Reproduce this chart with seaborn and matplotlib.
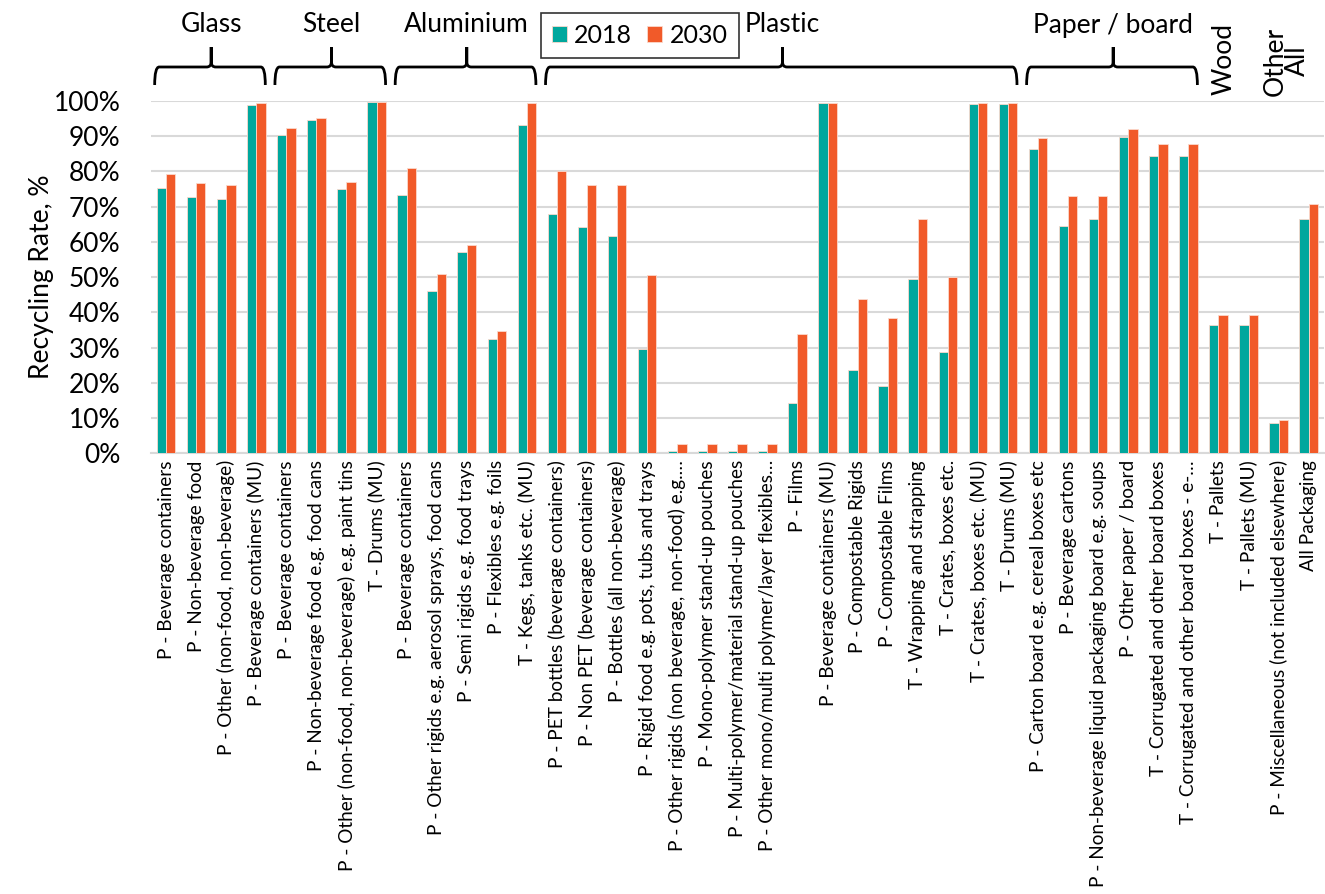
import matplotlib
matplotlib.use("Agg")
import matplotlib.pyplot as plt
import matplotlib.transforms as mtransforms
from matplotlib.path import Path
from matplotlib.patches import PathPatch
import pandas as pd
import seaborn as sns

labels = [
    "P - Beverage containers", "P - Non-beverage food",
    "P - Other (non-food, non-beverage)", "P - Beverage containers (MU)",
    "P - Beverage containers", "P - Non-beverage food e.g. food cans",
    "P - Other (non-food, non-beverage) e.g. paint tins", "T - Drums (MU)",
    "P - Beverage containers", "P - Other rigids e.g. aerosol sprays, food cans",
    "P - Semi rigids e.g. food trays", "P - Flexibles e.g. foils",
    "T - Kegs, tanks etc. (MU)",
    "P - PET bottles (beverage containers)", "P - Non PET (beverage containers)",
    "P - Bottles (all non-beverage)", "P - Rigid food e.g. pots, tubs and trays",
    "P - Other rigids (non beverage, non-food) e.g.…",
    "P - Mono-polymer stand-up pouches",
    "P - Multi-polymer/material stand-up pouches",
    "P - Other mono/multi polymer/layer flexibles…",
    "P - Films", "P - Beverage containers (MU)", "P - Compostable Rigids",
    "P - Compostable Films", "T - Wrapping and strapping",
    "T - Crates, boxes etc.", "T - Crates, boxes etc. (MU)", "T - Drums (MU)",
    "P - Carton board e.g. cereal boxes etc", "P - Beverage cartons",
    "P - Non-beverage liquid packaging board e.g. soups",
    "P - Other paper / board", "T - Corrugated and other board boxes",
    "T - Corrugated and other board boxes - e-…",
    "T - Pallets", "T - Pallets (MU)",
    "P - Miscellaneous (not included elsewhere)", "All Packaging",
]

rate_2018 = [75.4, 72.8, 72.1, 99.0, 90.3, 94.5, 75.1, 99.8,
             73.3, 46.1, 57.0, 32.4, 93.2,
             68.0, 64.2, 61.8, 29.5, 0.6, 0.6, 0.6, 0.6, 14.3, 99.5,
             23.7, 19.1, 49.4, 28.8, 99.2, 99.2,
             86.3, 64.4, 66.5, 89.9, 84.3, 84.3,
             36.5, 36.5, 8.7, 66.5]
rate_2030 = [79.2, 76.6, 76.3, 99.3, 92.4, 95.2, 76.9, 99.8,
             81.0, 50.9, 59.1, 34.7, 99.3,
             80.2, 76.3, 76.1, 50.5, 2.7, 2.7, 2.7, 2.7, 33.9, 99.5,
             43.8, 38.4, 66.5, 49.9, 99.5, 99.5,
             89.4, 73.1, 73.1, 92.0, 87.9, 87.9,
             39.2, 39.2, 9.5, 70.7]

# material groups with a brace: (name, first index, last index)
braced_groups = [("Glass", 0, 3), ("Steel", 4, 7), ("Aluminium", 8, 12),
                 ("Plastic", 13, 28), ("Paper / board", 29, 34)]

years = ["2018", "2030"]
colors = ["#00A79D", "#F15A29"]

n = len(labels)
df = pd.DataFrame({
    "pos": list(range(n)) * 2,
    "rate": [v / 100 for v in rate_2018 + rate_2030],
    "year": [years[0]] * n + [years[1]] * n,
})

font = ["Lato", "DejaVu Sans"]
plt.rcParams["font.family"] = font

fig = plt.figure(figsize=(13.25, 8.94), dpi=100)
ax = fig.add_axes([0.114, 0.493, 0.885, 0.394])

sns.barplot(data=df, x="pos", y="rate", hue="year", palette=colors,
            saturation=1, width=0.62, gap=0, edgecolor="#FBD9CC",
            linewidth=0.6, ax=ax, zorder=3)

ax.set_xlim(-0.5, n - 0.5)
ax.set_ylim(0, 1.0)
ax.set_yticks([i / 10 for i in range(11)])
ax.set_yticklabels([f"{i * 10}%" for i in range(11)], fontsize=19)
ax.set_xticks(range(n))
ax.set_xticklabels(labels, rotation=90, fontsize=13.7)
ax.tick_params(axis="y", length=0, pad=22)
ax.tick_params(axis="x", length=0, pad=5)
ax.set_xlabel("")
ax.set_ylabel("Recycling Rate, %", fontsize=19, labelpad=0)
ax.grid(axis="y", color="#D9D9D9", linewidth=1.5, zorder=0)
for s in ["left", "right", "top"]:
    ax.spines[s].set_visible(False)
ax.spines["bottom"].set_color("#D9D9D9")
ax.spines["bottom"].set_linewidth(1.5)

leg = ax.legend(loc="upper left", bbox_to_anchor=(0.408, 0.986),
                bbox_transform=fig.transFigure, borderaxespad=0, ncol=2,
                fontsize=18, frameon=True, fancybox=False, handlelength=0.6,
                handleheight=0.6, handletextpad=0.3, columnspacing=0.6,
                borderpad=0.45)
leg.get_frame().set_edgecolor("black")
leg.get_frame().set_linewidth(1.2)

# braces and group names above the plot
tr = mtransforms.blended_transform_factory(ax.transData, fig.transFigure)
y_line, y_end, y_peak = 1 - 67 / 894, 1 - 85 / 894, 1 - 47 / 894
r = 0.15
dy = 0.006
for name, a, b in braced_groups:
    x0, x1 = a - 0.38, b + 0.3
    xm = (a + b) / 2
    verts = [(x0, y_end), (x0, y_line), (x0 + r, y_line),
             (xm - r, y_line), (xm, y_line), (xm, y_line + dy),
             (xm, y_peak), (xm, y_peak), (xm, y_line + dy),
             (xm, y_line), (xm + r, y_line),
             (x1 - r, y_line), (x1, y_line), (x1, y_end)]
    codes = [Path.MOVETO, Path.CURVE3, Path.CURVE3,
             Path.LINETO, Path.CURVE3, Path.CURVE3,
             Path.LINETO, Path.MOVETO, Path.LINETO,
             Path.CURVE3, Path.CURVE3,
             Path.LINETO, Path.CURVE3, Path.CURVE3]
    patch = PathPatch(Path(verts, codes), transform=tr, fill=False,
                      edgecolor="black", linewidth=2, clip_on=False)
    fig.add_artist(patch)
    fig.text(xm, 1 - 25 / 894, name, transform=tr, ha="center",
             va="center", fontsize=19)

fig.text(35.2, 1 - 59 / 894, "Wood", transform=tr, rotation=90,
         ha="center", va="center", fontsize=19)
fig.text(37.25, 1 - 61 / 894, "Other\nAll", transform=tr, rotation=90,
         ha="center", va="center", multialignment="center",
         fontsize=19, linespacing=0.85)

fig.savefig("out.png", dpi=100)
plt.close(fig)
